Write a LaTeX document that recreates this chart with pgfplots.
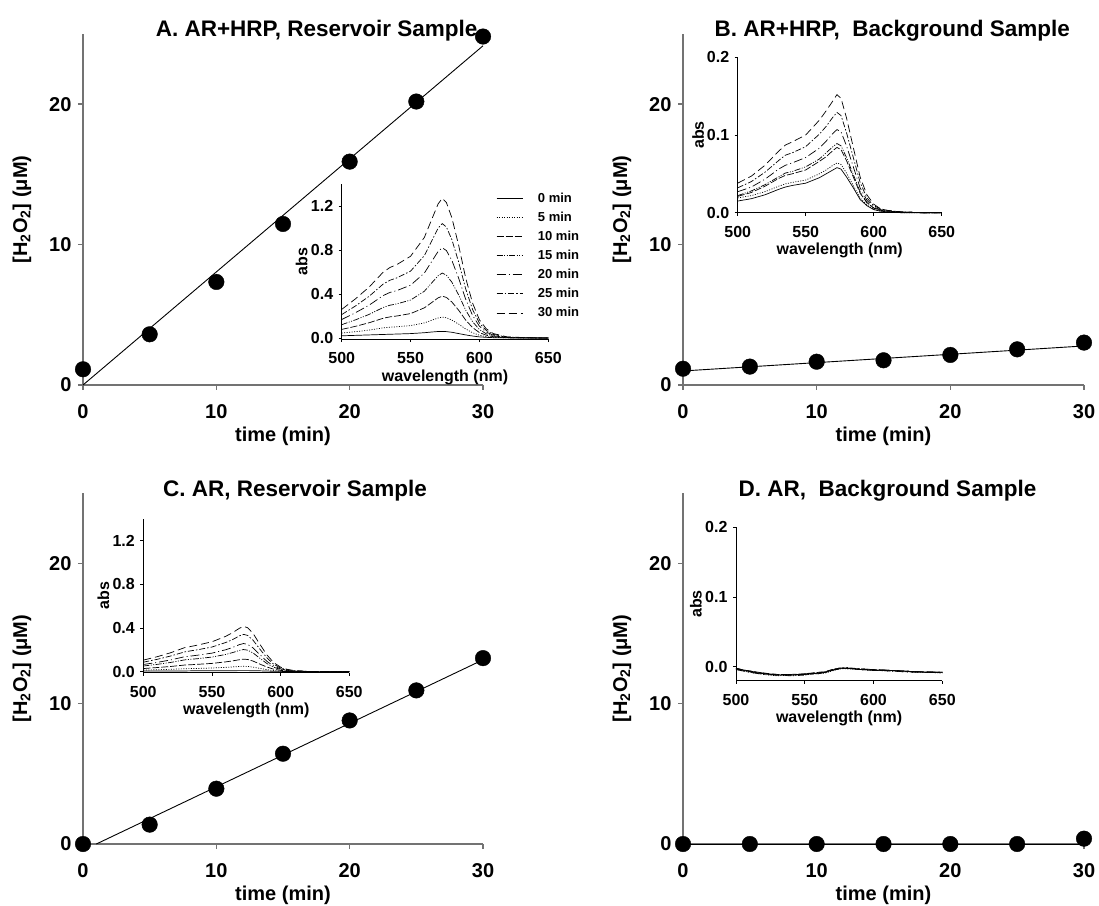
\documentclass[border=0pt]{standalone}
\usepackage{fontspec}
\setmainfont{Liberation Sans}
\usepackage{pgfplots}
\usepackage{pgfplotstable}
\pgfplotsset{compat=1.18}
\definecolor{axgray}{gray}{0.45}
\newcommand{\fs}[1]{\fontsize{#1}{#1}\selectfont\bfseries}

\pgfplotstableread{
wl c0 c5 c10 c15 c20 c25 c30
500 0.020 0.045 0.078 0.121 0.168 0.213 0.260
510 0.024 0.057 0.106 0.165 0.230 0.291 0.356
520 0.028 0.072 0.139 0.215 0.299 0.380 0.464
530 0.032 0.092 0.179 0.277 0.385 0.489 0.597
535 0.034 0.098 0.192 0.298 0.414 0.525 0.641
540 0.036 0.102 0.200 0.310 0.431 0.546 0.667
550 0.040 0.113 0.222 0.345 0.480 0.608 0.743
560 0.048 0.137 0.274 0.425 0.590 0.749 0.914
565 0.054 0.160 0.319 0.496 0.689 0.874 1.067
570 0.059 0.182 0.365 0.566 0.787 0.998 1.219
573 0.060 0.190 0.380 0.590 0.820 1.040 1.270
576 0.058 0.184 0.369 0.572 0.795 1.009 1.232
580 0.052 0.163 0.327 0.507 0.705 0.894 1.092
585 0.040 0.125 0.251 0.389 0.541 0.686 0.838
590 0.028 0.082 0.163 0.254 0.353 0.447 0.546
595 0.018 0.048 0.095 0.148 0.205 0.260 0.318
600 0.010 0.025 0.049 0.077 0.107 0.135 0.165
605 0.006 0.012 0.025 0.038 0.053 0.068 0.083
610 0.003 0.006 0.012 0.019 0.026 0.033 0.041
620 0.001 0.002 0.003 0.005 0.007 0.008 0.010
635 0.000 0.000 0.001 0.001 0.002 0.002 0.003
650 0.000 0.000 0.000 0.000 0.000 0.000 0.000
}\tabA

\pgfplotstableread{
wl c0 c5 c10 c15 c20 c25 c30
500 0.015 0.019 0.021 0.022 0.027 0.032 0.038
510 0.018 0.022 0.026 0.028 0.033 0.040 0.047
520 0.023 0.027 0.034 0.036 0.043 0.052 0.061
530 0.030 0.034 0.044 0.046 0.056 0.067 0.079
535 0.033 0.037 0.048 0.051 0.061 0.074 0.087
540 0.035 0.039 0.050 0.053 0.064 0.077 0.091
550 0.038 0.042 0.055 0.059 0.071 0.085 0.100
560 0.045 0.050 0.066 0.069 0.083 0.101 0.119
565 0.050 0.055 0.072 0.077 0.092 0.111 0.131
570 0.055 0.061 0.080 0.085 0.102 0.123 0.144
573 0.058 0.064 0.084 0.089 0.107 0.129 0.152
576 0.056 0.062 0.081 0.086 0.104 0.125 0.147
580 0.046 0.051 0.067 0.071 0.086 0.103 0.122
585 0.032 0.035 0.046 0.049 0.059 0.071 0.084
590 0.017 0.019 0.025 0.027 0.032 0.039 0.046
595 0.009 0.010 0.013 0.013 0.016 0.019 0.023
600 0.004 0.004 0.006 0.006 0.007 0.009 0.011
605 0.002 0.002 0.003 0.003 0.004 0.005 0.005
610 0.001 0.001 0.002 0.002 0.002 0.003 0.003
620 0.000 0.000 0.001 0.001 0.001 0.001 0.001
635 0.000 0.000 0.000 0.000 0.000 0.000 0.000
650 0.000 0.000 0.000 0.000 0.000 0.000 0.000
}\tabB

\pgfplotstableread{
wl c0 c5 c10 c15 c20 c25 c30
500 0.006 0.015 0.029 0.052 0.066 0.087 0.106
510 0.006 0.018 0.038 0.067 0.085 0.113 0.137
520 0.007 0.022 0.048 0.085 0.108 0.144 0.174
530 0.007 0.027 0.061 0.108 0.137 0.181 0.220
535 0.008 0.029 0.064 0.114 0.144 0.192 0.232
540 0.008 0.030 0.068 0.120 0.152 0.202 0.245
550 0.008 0.034 0.076 0.134 0.170 0.226 0.274
560 0.009 0.040 0.090 0.158 0.201 0.267 0.324
565 0.009 0.044 0.099 0.175 0.222 0.294 0.357
570 0.010 0.048 0.110 0.195 0.248 0.328 0.398
573 0.010 0.050 0.115 0.203 0.258 0.342 0.415
576 0.010 0.048 0.112 0.197 0.250 0.332 0.403
580 0.009 0.042 0.097 0.171 0.217 0.287 0.349
585 0.008 0.030 0.069 0.122 0.155 0.205 0.249
590 0.006 0.019 0.043 0.075 0.095 0.127 0.154
595 0.004 0.010 0.023 0.041 0.052 0.068 0.083
600 0.003 0.005 0.012 0.020 0.026 0.034 0.042
605 0.002 0.003 0.006 0.010 0.013 0.017 0.021
610 0.001 0.001 0.003 0.005 0.006 0.009 0.010
620 0.000 0.000 0.001 0.002 0.002 0.003 0.003
635 0.000 0.000 0.000 0.000 0.001 0.001 0.001
650 0.000 0.000 0.000 0.000 0.000 0.000 0.000
}\tabC

\pgfplotstableread{
wl c0 c5 c10 c15 c20 c25 c30
500 -0.003 -0.004 -0.003 -0.002 -0.004 -0.003 -0.002
510 -0.007 -0.008 -0.006 -0.007 -0.008 -0.006 -0.007
520 -0.010 -0.011 -0.009 -0.010 -0.011 -0.010 -0.009
530 -0.012 -0.013 -0.011 -0.012 -0.012 -0.011 -0.012
540 -0.012 -0.012 -0.011 -0.013 -0.012 -0.012 -0.011
550 -0.011 -0.011 -0.010 -0.012 -0.011 -0.010 -0.011
560 -0.009 -0.010 -0.008 -0.009 -0.010 -0.009 -0.008
565 -0.008 -0.009 -0.007 -0.008 -0.008 -0.007 -0.008
570 -0.005 -0.006 -0.004 -0.005 -0.005 -0.004 -0.005
575 -0.003 -0.003 -0.002 -0.003 -0.002 -0.002 -0.003
580 -0.002 -0.003 -0.002 -0.002 -0.002 -0.001 -0.002
590 -0.004 -0.004 -0.003 -0.004 -0.003 -0.003 -0.004
600 -0.005 -0.005 -0.004 -0.005 -0.004 -0.005 -0.005
610 -0.005 -0.006 -0.005 -0.005 -0.005 -0.006 -0.005
620 -0.006 -0.007 -0.006 -0.006 -0.007 -0.006 -0.006
630 -0.007 -0.008 -0.007 -0.007 -0.008 -0.007 -0.007
640 -0.008 -0.008 -0.008 -0.008 -0.008 -0.008 -0.007
650 -0.008 -0.009 -0.008 -0.008 -0.009 -0.008 -0.008
}\tabD

\tikzset{
 sp/.style={black, line width=0.7pt},
 s0/.style={sp, solid},
 s5/.style={sp, dash pattern=on 1pt off 1.5pt},
 s10/.style={sp, dash pattern=on 7pt off 2pt},
 s15/.style={sp, dash pattern=on 6pt off 1.5pt on 1pt off 1.5pt on 1pt off 1.5pt},
 s20/.style={sp, dash pattern=on 9pt off 3pt on 1pt off 3pt},
 s25/.style={sp, dash pattern=on 6pt off 2pt on 1.5pt off 2pt},
 s30/.style={sp, dash pattern=on 8pt off 4pt},
}

\pgfplotsset{
 mainax/.style={
  scale only axis, width=400pt, height=351pt,
  xmin=0, xmax=30, ymin=0, ymax=25,
  axis lines=left,
  axis line style={axgray, line width=1.4pt, -},
  xtick={0,10,20,30}, ytick={0,10,20},
  xticklabels={0,10,20,30}, yticklabels={0,10,20},
  tick align=outside, major tick length=5pt,
  tick style={axgray, line width=1.4pt},
  xticklabel style={font=\fs{20}, yshift=-11pt},
  yticklabel style={font=\fs{20}, xshift=-3pt},
  clip=false,
  xlabel={time (min)},
  ylabel={[H\textsubscript{2}O\textsubscript{2}] (μM)},
  xlabel style={font=\fs{20}, at={(axis description cs:0.5,-0.1453)}, anchor=center},
  ylabel style={font=\fs{20}, at={(axis description cs:-0.1525,0.5)}, anchor=center},
  title style={font=\fs{22.5}, anchor=base, yshift=-9pt},
 },
 inset/.style={
  scale only axis,
  xmin=500, xmax=650,
  axis lines=left,
  axis line style={black, line width=0.8pt, -},
  xtick={500,550,600,650}, xticklabels={500,550,600,650},
  tick align=outside, major tick length=3pt,
  tick style={black, line width=0.8pt},
  xticklabel style={font=\fs{16}, yshift=-7pt},
  yticklabel style={font=\fs{16}, xshift=-2pt},
  xlabel={wavelength (nm)}, ylabel={abs},
  xlabel style={font=\fs{16}, anchor=center},
  ylabel style={font=\fs{16}, anchor=center, at={(axis description cs:-0.194,0.5)}},
  clip=false,
 },
}

\newcommand{\spectra}[1]{%
 \addplot[s0] table[x=wl,y=c0]{#1};
 \addplot[s5] table[x=wl,y=c5]{#1};
 \addplot[s10] table[x=wl,y=c10]{#1};
 \addplot[s15] table[x=wl,y=c15]{#1};
 \addplot[s20] table[x=wl,y=c20]{#1};
 \addplot[s25] table[x=wl,y=c25]{#1};
 \addplot[s30] table[x=wl,y=c30]{#1};
}

\begin{document}
\begin{tikzpicture}[x=1pt,y=1pt]
\path[use as bounding box] (0pt,0pt) rectangle (1099pt,905pt);

% ---------- A ----------
\begin{axis}[mainax, at={(83pt,520pt)}, anchor=south west,
  title={A. AR+HRP, Reservoir Sample}, title style={at={(0.584,1)}}]
\addplot[black, line width=0.9pt] coordinates {(0,0) (30,24.16)};
\addplot[only marks, mark=*, mark size=7.8pt, black] coordinates {(0,1.12) (5,3.61) (10,7.34) (15,11.47) (20,15.91) (25,20.19) (30,24.82)};
\end{axis}
\begin{axis}[inset, at={(341.7pt,565.9pt)}, anchor=south west, width=206.6pt, height=155.1pt,
  ymin=-0.01, ymax=1.4, ytick={0,0.4,0.8,1.2}, yticklabels={0.0,0.4,0.8,1.2},
  xlabel style={at={(axis description cs:0.5,-0.245)}},
  legend entries={0 min,5 min,10 min,15 min,20 min,25 min,30 min},
  legend cell align=left,
  legend image code/.code={\draw[#1] (0pt,0pt) -- (26pt,0pt);},
  legend style={at={(0.747,0.539)}, anchor=west, draw=none, fill=none, inner sep=0pt,
    row sep=8.2pt, font=\fs{13}, nodes={inner sep=0pt},
    /tikz/every odd column/.append style={column sep=15pt}}]
\spectra{\tabA}
\end{axis}

% ---------- B ----------
\begin{axis}[mainax, at={(683pt,520pt)}, anchor=south west, width=401pt,
  title={B. AR+HRP,~ Background Sample}, title style={at={(0.522,1)}}]
\addplot[black, line width=0.9pt] coordinates {(0,1.0) (30,2.78)};
\addplot[only marks, mark=*, mark size=7.8pt, black] coordinates {(0,1.16) (5,1.31) (10,1.66) (15,1.76) (20,2.14) (25,2.54) (30,3.02)};
\end{axis}
\begin{axis}[inset, at={(737.7pt,692.3pt)}, anchor=south west, width=204pt, height=155.4pt,
  ymin=0, ymax=0.2, ytick={0,0.1,0.2}, yticklabels={0.0,0.1,0.2},
  xlabel style={at={(axis description cs:0.5,-0.245)}}]
\spectra{\tabB}
\end{axis}

% ---------- C ----------
\begin{axis}[mainax, at={(83pt,61pt)}, anchor=south west,
  title={C. AR, Reservoir Sample}, title style={at={(0.53,1)}}]
\addplot[black, line width=0.9pt] coordinates {(1,0) (30,13.12)};
\addplot[only marks, mark=*, mark size=7.8pt, black] coordinates {(0,0) (5,1.38) (10,3.94) (15,6.43) (20,8.80) (25,10.94) (30,13.24)};
\end{axis}
\begin{axis}[inset, at={(143.3pt,232.2pt)}, anchor=south west, width=206pt, height=154pt,
  ymin=-0.01, ymax=1.4, ytick={0,0.4,0.8,1.2}, yticklabels={0.0,0.4,0.8,1.2},
  xlabel style={at={(axis description cs:0.5,-0.247)}}]
\spectra{\tabC}
\end{axis}

% ---------- D ----------
\begin{axis}[mainax, at={(683pt,61pt)}, anchor=south west, width=401pt,
  title={D. AR,~ Background Sample}, title style={at={(0.51,1)}}]
\addplot[black, line width=0.9pt] coordinates {(0,0) (30,0)};
\addplot[only marks, mark=*, mark size=7.8pt, black] coordinates {(0,0) (5,0) (10,0) (15,0) (20,0) (25,0) (30,0.38)};
\end{axis}
\begin{axis}[inset, at={(736pt,224.3pt)}, anchor=south west, width=206.3pt, height=153.4pt,
  ymin=-0.02, ymax=0.2, ytick={0,0.1,0.2}, yticklabels={0.0,0.1,0.2},
  xlabel style={at={(axis description cs:0.5,-0.248)}}]
\spectra{\tabD}
\end{axis}
\end{tikzpicture}
\end{document}
